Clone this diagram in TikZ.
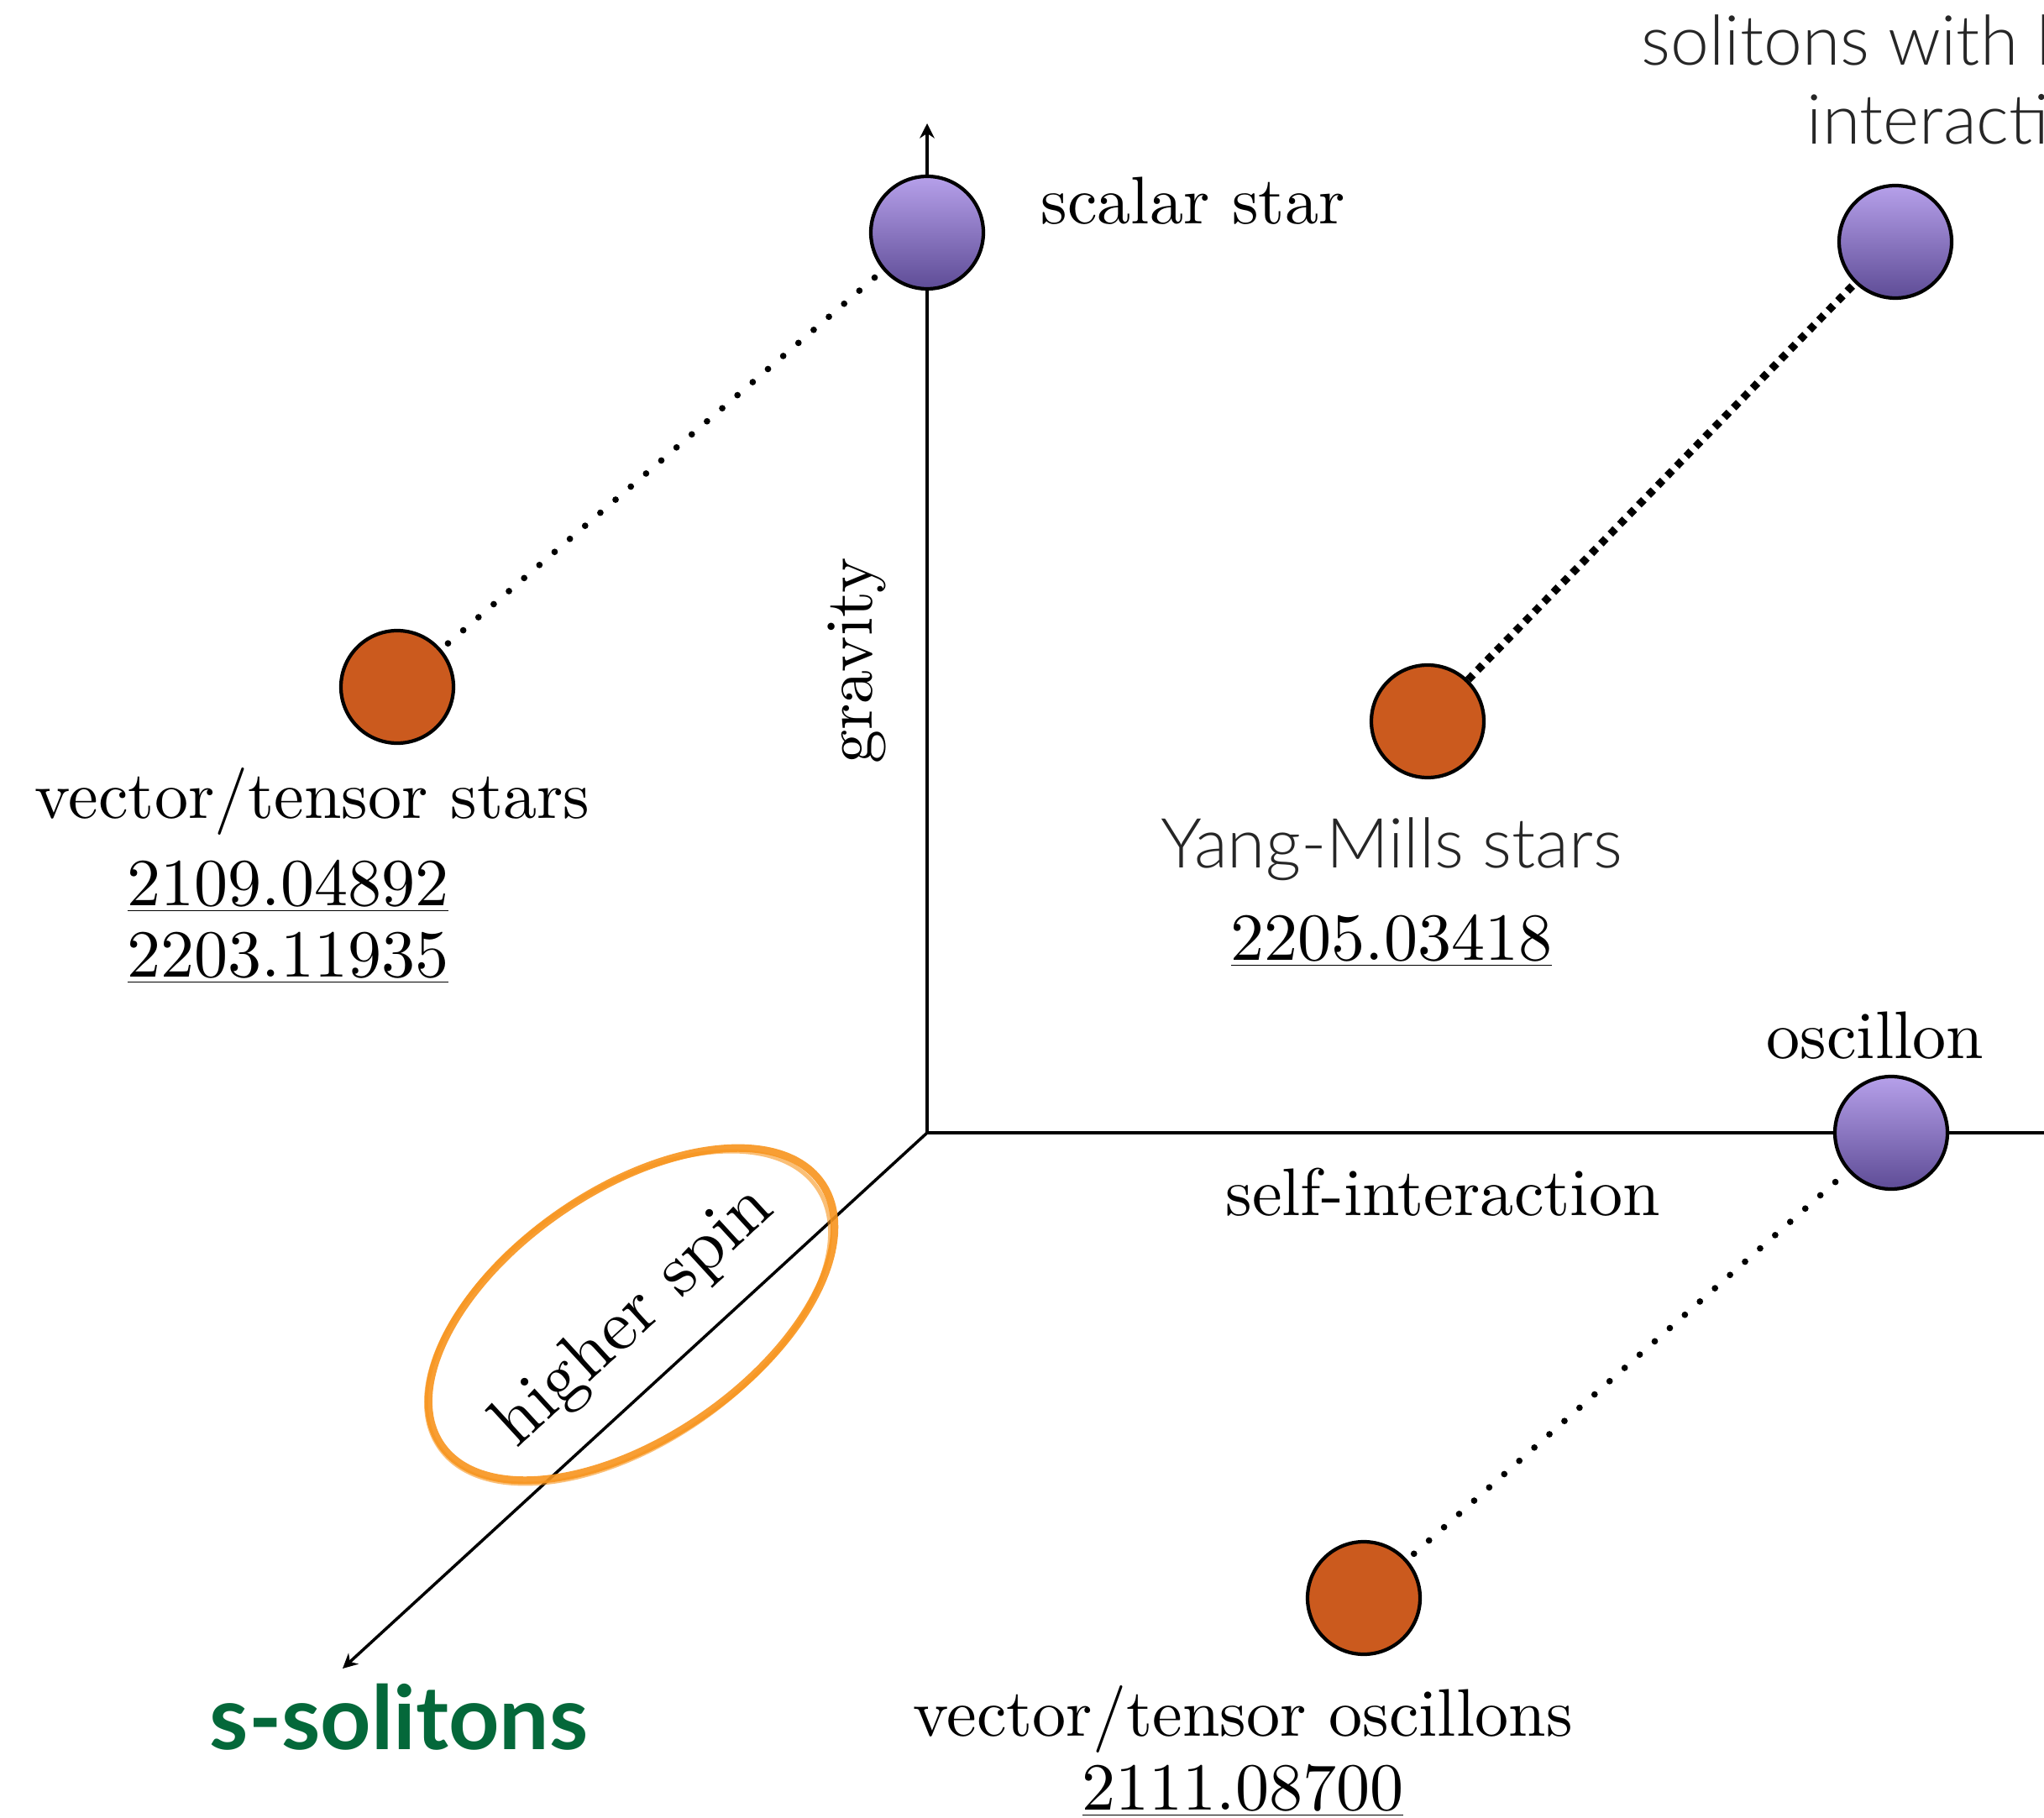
\documentclass[tikz,border=0pt]{standalone}
\usepackage{fontspec}
\setmainfont{lmroman10-regular}[Extension=.otf]
\newfontfamily\gill{Lato}[UprightFont=* Light,BoldFont=* Bold]
\usepackage{tikz}
\usetikzlibrary{arrows.meta,positioning}
\definecolor{lavtop}{RGB}{182,160,234}
\definecolor{lavbot}{RGB}{94,76,150}
\definecolor{rust}{RGB}{203,90,30}
\definecolor{pencil}{RGB}{247,148,29}
\definecolor{forest}{RGB}{4,104,58}

\begin{document}
\begin{tikzpicture}[
  font=\fontsize{22.8}{27}\selectfont,
  axis/.style={line width=1pt},
  axarr/.style={axis,-{Stealth[length=5pt,width=5pt]}},
  scalarball/.style={circle,draw,line width=1.2pt,minimum size=1.34cm,inner sep=0pt,top color=lavtop,bottom color=lavbot},
  vecball/.style={circle,draw,line width=1.2pt,minimum size=1.34cm,inner sep=0pt,fill=rust},
  dotlink/.style={line width=2.2pt,line cap=round,dash pattern=on 0pt off 6.8pt,shorten <=3pt,shorten >=3pt},
  sqlink/.style={line width=2.6pt,dash pattern=on 2.4pt off 2.2pt},
  lbl/.style={inner sep=0pt},
  sans/.style={lbl,font=\gill\fontsize{23.4}{28}\selectfont,text=black!85},
]
\useasboundingbox (0,0) rectangle (24.34,21.64);

% the three axes
\coordinate (o) at (11.04,8.15);
\coordinate (gtip) at (11.04,20.17);
\coordinate (xend) at (24.60,8.15);
\coordinate (stip) at (4.08,1.77);
\draw[axarr] (o) -- (gtip);
\draw[axis] (o) -- (xend);
\draw[axarr] (o) -- (stip);

% spin-0 objects
\node[scalarball] (ss) at (11.04,18.87) {};
\node[scalarball] (both) at (22.57,18.76) {};
\node[scalarball] (osc) at (22.52,8.15) {};
% higher spin counterparts
\node[vecball] (vts) at (4.73,13.46) {};
\node[vecball] (ym) at (17.00,13.05) {};
\node[vecball] (vto) at (16.24,2.61) {};

\draw[dotlink] (vts) -- (ss);
\draw[sqlink] (ym) -- (both);
\draw[dotlink] (vto) -- (osc);

% labels
\node[lbl,right=1.35cm of ss.center,anchor=base west,yshift=1mm] (ssl) {scalar star};
\node[sans,anchor=base west] (bothl) at (19.54,20.86) {solitons with b};
\node[sans,anchor=base west] (bothl2) at (21.51,19.92) {interacti};
\node[lbl,above=0.89cm of osc.center,anchor=base,xshift=-1.9mm] (oscl) {oscillon};

\node[lbl,below=1.57cm of vts.center,anchor=base,xshift=-1.01cm] (vtsl) {vector/tensor stars};
\node[lbl,below=1.03cm of vtsl.base,anchor=base,xshift=-2.9mm] (vtsa) {\underline{2109.04892}};
\node[lbl,below=0.85cm of vtsa.base,anchor=base] (vtsb) {\underline{2203.11935}};

\node[sans,below=1.74cm of ym.center,anchor=base,xshift=-4.3mm] (yml) {Yang-Mills stars};
\node[lbl,below=1.10cm of yml.base,anchor=base] (yma) {\underline{2205.03418}};

\node[lbl,below=1.64cm of vto.center,anchor=base,xshift=-1.44cm] (vtol) {vector/tensor oscillons};
\node[lbl,below=0.88cm of vtol.base,anchor=base] (vtoa) {\underline{2111.08700}};

% axis names
\node[lbl,rotate=90,anchor=base] (grav) at (10.38,13.77) {gravity};
\node[lbl,anchor=base] (selfint) at (17.18,7.17) {self-interaction};
\node[lbl,rotate=42.5,anchor=base,font=\fontsize{24.6}{29}\selectfont] (hspin) at (7.70,5.80) {higher spin};
\draw[pencil,line width=2.6pt,opacity=.9,rotate around={34.5:(7.52,5.99)}] (7.52,5.99) ellipse (2.75 and 1.48);
\draw[pencil,line width=1.4pt,opacity=.6,rotate around={34.5:(7.48,5.95)}] (7.48,5.95) ellipse (2.73 and 1.50);

\node[lbl,anchor=base,font=\gill\bfseries\fontsize{30}{36}\selectfont,text=forest] (ssol) at (4.75,0.81) {s-solitons};
\end{tikzpicture}
\end{document}
